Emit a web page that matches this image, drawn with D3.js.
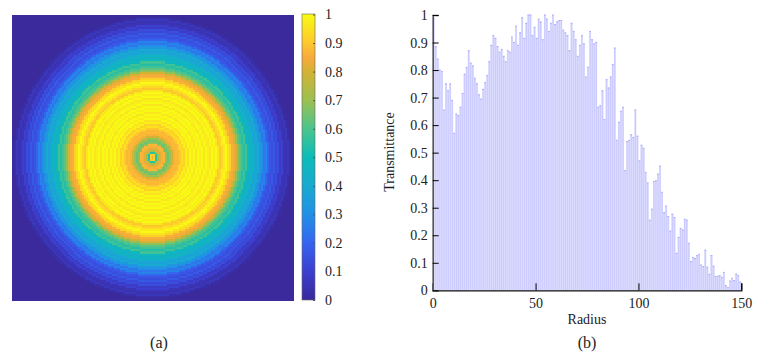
<!DOCTYPE html>
<html>
<head>
<meta charset="utf-8">
<script src="https://d3js.org/d3.v7.min.js"></script>
<style>
body { margin: 0; background: #fff; }
text { font-family: "Liberation Serif", serif; fill: #222; }
</style>
</head>
<body>
<script>
var w = 763;
var h = 362;

// transmittance per radius, panel (b)
var transmittance = [
  .988, .885, .84, .80, .795, .655, .75, .725, .75, .69,
  .57, .64, .635, .665, .715, .785, .81, .87, .825, .815,
  .77, .75, .71, .695, .73, .755, .78, .83, .89, .925,
  .915, .885, .865, .875, .85, .83, .87, .865, .92, .90,
  .96, .89, .935, .99, .915, .97, 1, 1, .925, .955,
  .915, .985, .975, .91, 1, .985, .94, .97, 1, .965,
  .975, .98, .98, .945, .935, .925, .87, .97, .94, .91,
  .85, .89, .925, .895, .775, .81, .94, .91, .895, .90,
  .665, .67, .725, .62, .765, .735, .775, .82, .88, .545,
  .61, .65, .665, .435, .54, .545, .565, .555, .655, .56,
  .47, .527, .516, .428, .39, .255, .295, .395, .398, .422,
  .451, .356, .282, .306, .268, .215, .277, .264, .134, .192,
  .225, .219, .258, .255, .171, .104, .119, .115, .126, .131,
  .092, .086, .146, .084, .058, .126, .088, .05, .051, .053,
  .047, .065, .017, .01, .034, .044, .035, .059, .054, .03
];

// ring values going out from the centre, panel (a), one per cell of radius
var ringValues = [
  .85, .92, .55, .72, .82, .86, .87, .68, .64, .7,
  .8, .86, .88, .87, .9, .95, .92, .98, .95, 1,
  .97, 1, .96, 1, .98, 1, .96, 1, .98, .96,
  1, .97, 1, .96, .9, .93, .97, 1, .95, .92,
  .86, .84, .8, .68, .62, .58, .54, .58, .48, .44,
  .46, .4, .37, .4, .33, .3, .24, .27, .2, .16,
  .14, .17, .12, .14, .08, .1, .05, .04, .06, .02
];

var colorStops = [0, .1, .2, .3, .4, .5, .6, .7, .8, .85, .9, 1];
var colorList = ["#3a2a9c", "#3c3fd0", "#3565f0", "#2290e6", "#18aad0", "#0cbcb8", "#4cc48c", "#9cc050", "#d4b234", "#f8aa3c", "#fdc82c", "#f8fa14"];
var gridSize = 141;
var cols = d3.range(gridSize);

var barTicks = [0, 50, 100, 150];
var yTicks = [0, .1, .2, .3, .4, .5, .6, .7, .8, .9, 1];

var svg = d3.select("body")
.append("svg")
.attr("width", w)
.attr("height", h)
.style("display", "block");

var color = d3.scaleLinear().domain(colorStops).range(colorList).clamp(true);

// panel (a)
var imgX = d3.scaleBand().domain(cols).range([12, 293]);
var imgY = d3.scaleBand().domain(cols).range([15, 300]);
var cells = [];
cols.forEach(function(r) {
  cols.forEach(function(c) {
    var dist = Math.round(Math.hypot(c - 70, r - 70));
    cells.push({ c: c, r: r, v: dist < ringValues.length ? ringValues[dist] : 0 });
  });
});

svg.append("g")
.attr("shape-rendering", "crispEdges")
.selectAll("rect")
.data(cells)
.enter()
.append("rect")
.attr("x", function(d) { return imgX(d.c); })
.attr("y", function(d) { return imgY(d.r); })
.attr("width", imgX.bandwidth() + .5)
.attr("height", imgY.bandwidth() + .5)
.attr("fill", function(d) { return color(d.v); });

// colour bar
var barY = d3.scaleLinear().domain([0, 1]).range([300, 14.5]);
var levels = d3.range(0, 286);
svg.append("g")
.attr("shape-rendering", "crispEdges")
.selectAll("rect")
.data(levels)
.enter()
.append("rect")
.attr("x", 302)
.attr("y", function(d) { return 300 - d - 1; })
.attr("width", 13)
.attr("height", 1.2)
.attr("fill", function(d) { return color(d / 285); });

svg.append("rect")
.attr("x", 302)
.attr("y", 14)
.attr("width", 13)
.attr("height", 286)
.attr("fill", "none")
.attr("stroke", "#666")
.attr("stroke-width", .6);

var barAxis = svg.append("g")
.attr("transform", "translate(315,0)")
.call(d3.axisRight(barY).tickValues(yTicks).tickSize(-2).tickPadding(10).tickFormat(d3.format("~g")));
barAxis.select(".domain").remove();
barAxis.selectAll("line").attr("stroke", "#555");
barAxis.selectAll("text").attr("font-size", "14px").attr("fill", "#222");

// panel (b)
var x = d3.scaleLinear().domain([0, 150]).range([432.7, 741.3]);
var y = d3.scaleLinear().domain([0, 1]).range([290.3, 15]);

svg.append("g")
.selectAll("rect")
.data(transmittance)
.enter()
.append("rect")
.attr("x", function(d, i) { return x(i) + .35; })
.attr("y", function(d) { return y(d); })
.attr("width", x(1) - x(0) - .7)
.attr("height", function(d) { return y(0) - y(d); })
.attr("fill", "#cdcdff")
.attr("stroke", "#c4c4ff")
.attr("stroke-width", .35);

svg.append("g")
.selectAll("line")
.data(transmittance)
.enter()
.append("line")
.attr("x1", function(d, i) { return x(i) + .2; })
.attr("x2", function(d, i) { return x(i + 1) - .2; })
.attr("y1", function(d) { return y(d); })
.attr("y2", function(d) { return y(d); })
.attr("stroke", "#aeaefa")
.attr("stroke-width", 1.1);

var xAxis = svg.append("g")
.attr("transform", "translate(0,290.3)")
.call(d3.axisBottom(x).tickValues(barTicks).tickSize(-7).tickPadding(8).tickFormat(d3.format("d")));
xAxis.select(".domain").attr("stroke", "#111").attr("stroke-width", 1.2);
xAxis.selectAll("text").attr("font-size", "14px").attr("fill", "#222");

var yAxis = svg.append("g")
.attr("transform", "translate(432.7,0)")
.call(d3.axisLeft(y).tickValues(yTicks).tickSize(-6).tickPadding(5).tickFormat(d3.format("~g")));
yAxis.select(".domain").attr("stroke", "#555").attr("stroke-width", 1.6);
yAxis.selectAll("text").attr("font-size", "14px").attr("fill", "#222");

svg.append("text").text("Radius").attr("x", 587).attr("y", 324).attr("text-anchor", "middle").attr("font-size", "14px");
svg.append("text").text("Transmittance").attr("transform", "translate(394,152) rotate(-90)").attr("text-anchor", "middle").attr("font-size", "14px");
svg.append("text").text("(a)").attr("x", 159).attr("y", 348).attr("text-anchor", "middle").attr("font-size", "16px");
svg.append("text").text("(b)").attr("x", 587).attr("y", 348).attr("text-anchor", "middle").attr("font-size", "16px");
</script>
</body>
</html>
